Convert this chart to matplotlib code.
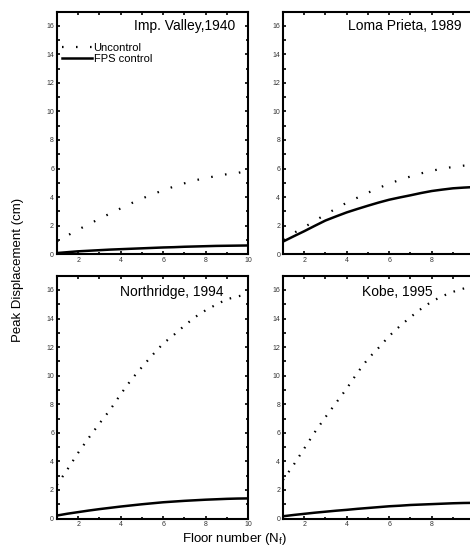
import matplotlib.pyplot as plt
from matplotlib.ticker import MultipleLocator

plt.rcParams['font.family'] = ['Liberation Sans', 'DejaVu Sans']

floors = [1, 1.5, 2, 2.5, 3, 3.5, 4, 4.5, 5, 5.5, 6, 6.5, 7, 7.5, 8, 8.5, 9, 9.5, 10]

imp_unc = [0.88, 1.30, 1.71, 2.09, 2.47, 2.84, 3.20, 3.56, 3.89, 4.19, 4.47, 4.73, 4.96, 5.17, 5.33, 5.47, 5.60, 5.68, 5.87]
imp_fps = [0.07, 0.13, 0.19, 0.23, 0.27, 0.31, 0.34, 0.37, 0.40, 0.43, 0.46, 0.48, 0.51, 0.53, 0.55, 0.57, 0.58, 0.59, 0.60]

loma_unc = [1.05, 1.47, 1.88, 2.33, 2.77, 3.19, 3.60, 3.95, 4.30, 4.63, 4.94, 5.20, 5.44, 5.66, 5.84, 5.99, 6.11, 6.20, 6.28]
loma_fps = [0.87, 1.24, 1.60, 1.98, 2.35, 2.64, 2.92, 3.16, 3.39, 3.61, 3.81, 3.97, 4.12, 4.28, 4.42, 4.52, 4.61, 4.66, 4.70]

north_unc = [2.35, 3.45, 4.60, 5.65, 6.65, 7.60, 8.70, 9.72, 10.60, 11.45, 12.25, 12.85, 13.50, 14.10, 14.58, 14.98, 15.35, 15.55, 15.70]
north_fps = [0.21, 0.34, 0.45, 0.56, 0.66, 0.75, 0.84, 0.92, 1.00, 1.07, 1.14, 1.19, 1.24, 1.28, 1.32, 1.35, 1.38, 1.40, 1.41]

kobe_unc = [2.70, 3.75, 4.90, 6.05, 7.10, 8.10, 9.10, 10.20, 11.18, 11.95, 12.78, 13.47, 14.10, 14.68, 15.19, 15.57, 15.87, 16.10, 16.30]
kobe_fps = [0.16, 0.25, 0.33, 0.41, 0.48, 0.55, 0.61, 0.68, 0.74, 0.80, 0.86, 0.90, 0.95, 0.98, 1.01, 1.04, 1.07, 1.09, 1.10]

x_major_left = [2, 4, 6, 8, 10]
x_major_right = [2, 4, 6, 8]  # the 10 label falls off the right edge in the original

panels = [
    ('Imp. Valley,1940', imp_unc, imp_fps, [0.121, 0.5356, 0.407, 0.443], 0.932, 0.942, (0, (0.7, 5.6)), x_major_left),
    ('Loma Prieta, 1989', loma_unc, loma_fps, [0.602, 0.5356, 0.407, 0.443], 0.932, 0.942, (0, (0.7, 5.6)), x_major_right),
    ('Northridge, 1994', north_unc, north_fps, [0.121, 0.052, 0.407, 0.444], 0.87, 0.932, (0, (0.7, 3.6)), x_major_left),
    ('Kobe, 1995', kobe_unc, kobe_fps, [0.602, 0.052, 0.407, 0.444], 0.78, 0.932, (0, (0.7, 3.6)), x_major_right),
]

fig = plt.figure(figsize=(4.7, 5.47), dpi=100)

for i, (title, unc, fps, pos, tx, ty, dots, xt) in enumerate(panels):
    ax = fig.add_axes(pos)
    ax.plot(floors, unc, color='black', lw=1.6, linestyle=dots, label='Uncontrol')
    ax.plot(floors, fps, color='black', lw=1.8, label='FPS control')
    ax.set_xlim(1, 10)
    ax.set_ylim(0, 17)
    ax.set_xticks(xt)
    ax.xaxis.set_minor_locator(MultipleLocator(1))
    ax.yaxis.set_major_locator(MultipleLocator(2))
    ax.yaxis.set_minor_locator(MultipleLocator(1))
    ax.tick_params(which='both', direction='in', top=True, right=True,
                   width=1.2, labelsize=5, labelcolor='#333333', pad=2)
    ax.tick_params(which='major', length=2.5)
    ax.tick_params(which='minor', length=1.8)
    for s in ax.spines.values():
        s.set_linewidth(1.5)
    ax.text(tx, ty, title, transform=ax.transAxes, ha='right', va='center', fontsize=10)
    if i == 0:
        ax.legend(loc='upper left', bbox_to_anchor=(0.0, 0.895), frameon=False,
                  fontsize=8, handlelength=2.7, handletextpad=0.1,
                  labelspacing=0.15, borderaxespad=0.3, borderpad=0.2)

fig.text(0.5, 0.014, 'Floor number (N$_\\mathregular{f}$)', ha='center', va='center', fontsize=9.5)
fig.text(0.038, 0.506, 'Peak Displacement (cm)', ha='center', va='center', rotation=90, fontsize=9.5)

fig.savefig('out.png', dpi=100)
